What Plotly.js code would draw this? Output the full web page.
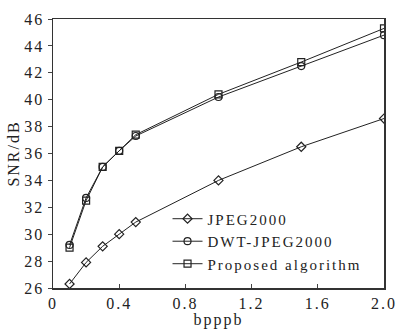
<!DOCTYPE html>
<html><head><meta charset="utf-8">
<script src="https://cdn.plot.ly/plotly-3.0.1.min.js"></script>
<style>html,body{margin:0;padding:0;background:#fff}#c{width:396px;height:329px}
svg text{letter-spacing:2px}
#c .legend .scrollbox{clip-path:none !important}</style>
</head><body><div id="c"></div>
<script>
const bitrates = [0.1, 0.2, 0.3, 0.4, 0.5, 1.0, 1.5, 2.0];
const jpeg2000 = [26.3, 27.9, 29.1, 30.0, 30.9, 34.0, 36.5, 38.6];
const dwtJpeg2000 = [29.2, 32.7, 35.0, 36.2, 37.3, 40.2, 42.5, 44.8];
const proposed = [29.0, 32.5, 35.0, 36.2, 37.4, 40.4, 42.8, 45.3];
const seriesNames = ['JPEG2000', 'DWT-JPEG2000', 'Proposed algorithm'];
const xTickVals = [0, 0.4, 0.8, 1.2, 1.6, 2.0];
const xTickText = ['0', '0.4', '0.8', '1.2', '1.6', '2.0'];
const yTickVals = [26, 28, 30, 32, 34, 36, 38, 40, 42, 44, 46];

const font = 'Liberation Serif, Times New Roman, serif';
function tr(y, name, sym) {
  return {x: bitrates, y: y, name: name, type: 'scatter', mode: 'lines+markers',
    line: {color: '#222', width: 1},
    marker: {symbol: sym, size: 7, color: '#222', line: {color: '#222', width: 1.2}}};
}
const data = [
  tr(jpeg2000, seriesNames[0], 'diamond-open'),
  tr(dwtJpeg2000, seriesNames[1], 'circle-open'),
  tr(proposed, seriesNames[2], 'square-open')
];
const layout = {
  width: 396, height: 329,
  margin: {l: 53, r: 12, t: 19, b: 41},
  paper_bgcolor: '#fff', plot_bgcolor: '#fff',
  font: {family: font, size: 16, color: '#222'},
  showlegend: true,
  legend: {x: 0.346, y: 0.318, xanchor: 'left', yanchor: 'top', bgcolor: 'rgba(0,0,0,0)',
    font: {family: font, size: 15, color: '#222'}, itemwidth: 30, tracegroupgap: 0},
  xaxis: {range: [0, 2.0], tickvals: xTickVals, ticktext: xTickText, ticks: 'inside', ticklen: 4,
    showgrid: false, zeroline: false, showline: true, linecolor: '#333', linewidth: 1.5, mirror: true,
    automargin: false, ticklabeloverflow: 'allow',
    tickfont: {family: font, size: 16}, title: {text: 'bpppb', font: {family: font, size: 16}, standoff: 0}},
  yaxis: {range: [26, 46], tickvals: yTickVals, ticks: 'outside', ticklen: 4,
    showgrid: false, zeroline: false, showline: true, linecolor: '#333', linewidth: 1.5, mirror: true,
    automargin: false, ticklabeloverflow: 'allow',
    tickfont: {family: font, size: 16}, title: {text: 'SNR/dB', font: {family: font, size: 16}, standoff: 0}}
};
Plotly.newPlot('c', data, layout, {displayModeBar: false, staticPlot: true});
</script></body></html>
